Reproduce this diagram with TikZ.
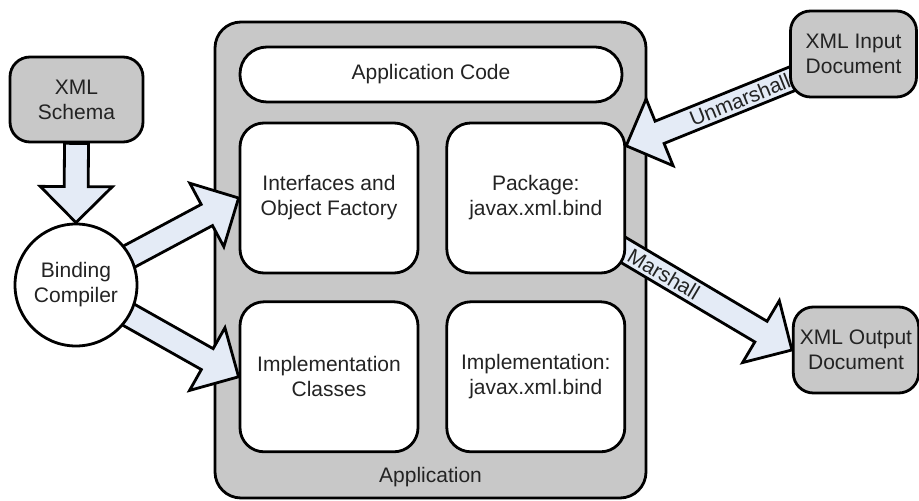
\documentclass[tikz,border=0pt]{standalone}
\usepackage{fontspec}
\setmainfont{Liberation Sans}
\usetikzlibrary{positioning, calc}

\definecolor{boxgray}{RGB}{200,200,200}
\definecolor{arrowblue}{RGB}{228,235,246}
\definecolor{textgray}{RGB}{35,35,35}

\pgfdeclarelayer{front}
\pgfsetlayers{main,front}

\tikzset{
  base/.style={draw, line width=1.4pt, align=center, text=textgray, font=\fontsize{10.5}{12.5}\selectfont},
  graybox/.style={base, fill=boxgray, rounded corners=10pt, minimum width=63pt, minimum height=43pt},
  inbox/.style={base, fill=white, rounded corners=12pt, minimum width=89pt, minimum height=75pt},
  label text/.style={text=textgray, font=\fontsize{10.5}{12.5}\selectfont, inner sep=1pt},
  fatarrow/.style={draw, line width=1.4pt, fill=arrowblue, line join=miter},
}

\newcommand{\blockarrow}[2]{%
  \draw[fatarrow] let \p1=(#1), \p2=(#2), \n1={atan2(\y2-\y1,\x2-\x1)}, \n2={veclen(\x2-\x1,\y2-\y1)} in
    {[shift={(\p1)}, rotate=\n1] (0pt,-6pt) -- (\n2-18pt,-6pt) -- (\n2-18pt,-18pt) -- (\n2,0pt)
    -- (\n2-18pt,18pt) -- (\n2-18pt,6pt) -- (0pt,6pt) -- cycle};
}

\begin{document}
\begin{tikzpicture}[x=0.5pt, y=-0.5pt, node distance=13pt]
  \useasboundingbox (0,0) rectangle (919,501);

  \node[base, fill=boxgray, rounded corners=13pt, minimum width=215.5pt, minimum height=238pt] (app) at (430.5,260) {};
  \node[base, fill=white, rounded corners=13.5pt, minimum width=191pt, minimum height=27.5pt] (code) at (431,74.5) {Application Code};
  \node[label text] (applabel) at (430.5,477) {Application};

  \node[inbox] (iface) at (329,198) {Interfaces and\\Object Factory};
  \node[inbox, below=of iface] (impl) {Implementation\\Classes};
  \node[inbox, right=of impl] (implj) {Implementation:\\javax.xml.bind};

  \node[graybox, minimum width=66.5pt, minimum height=42.5pt] (schema) at (76.5,99.5) {XML\\Schema};
  \node[graybox, minimum width=61pt] (xmlout) at (856,350) {XML Output\\Document};

  \begin{pgfonlayer}{front}
    \node[base, circle, fill=white, minimum size=61pt, inner sep=0pt] (compiler) at (76,285) {Binding\\Compiler};
    \node[inbox, right=of iface] (pkg) {Package:\\javax.xml.bind};
    \node[graybox] (xmlin) at (853.5,54) {XML Input\\Document};
  \end{pgfonlayer}

  \blockarrow{schema.south}{compiler.north}
  \blockarrow{compiler}{iface.west}
  \blockarrow{compiler}{impl.west}
  \blockarrow{xmlin}{pkg.30}
  \blockarrow{pkg}{xmlout.west}

  \path (xmlin.center) -- node[label text, sloped, pos=0.5] (unmarshall) {Unmarshall} (pkg.30);
  \path (pkg.center) -- node[label text, sloped, pos=0.5] (marshall) {Marshall} (xmlout.west);
\end{tikzpicture}
\end{document}
